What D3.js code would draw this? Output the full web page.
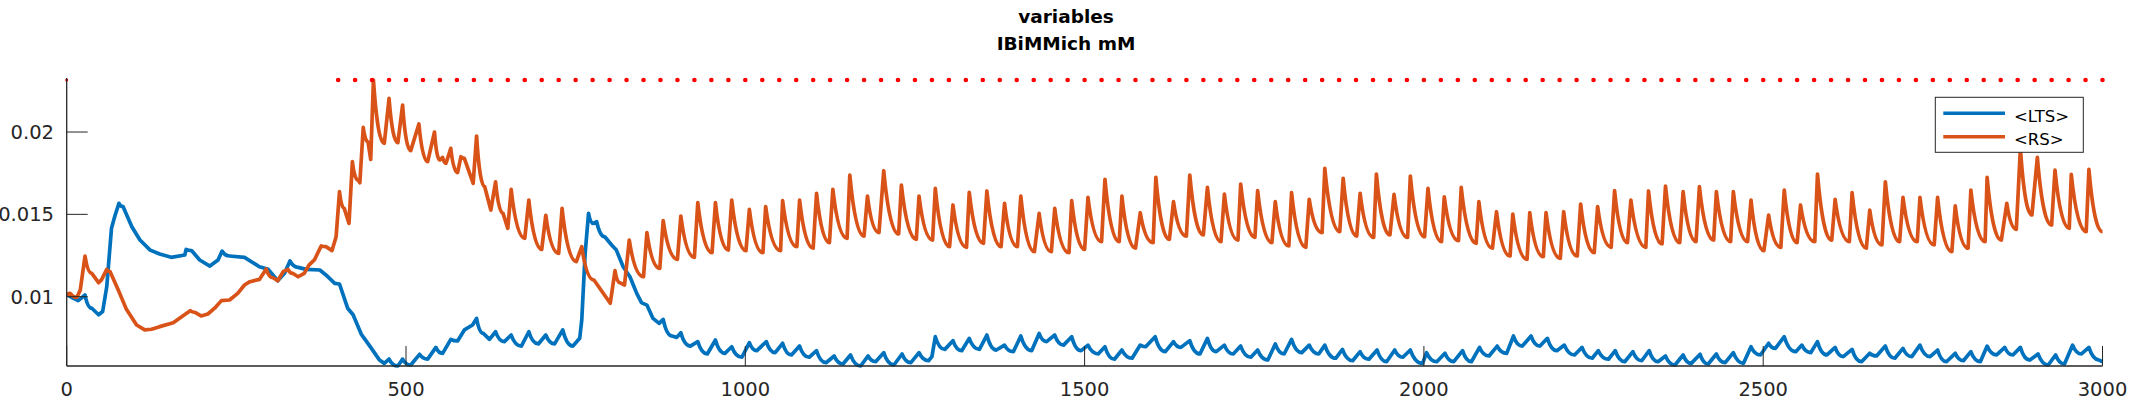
<!DOCTYPE html>
<html>
<head>
<meta charset="utf-8">
<script src="https://cdn.jsdelivr.net/npm/d3@7"></script>
<style>
  body { margin: 0; background: #fff; }
  svg { display: block; font-family: "DejaVu Sans", sans-serif; }
</style>
</head>
<body>
<svg id="chart" width="2133" height="400"></svg>
<script>
// time (ms) / concentration pairs
const ltsData = [
  [0,0.01014],[10,0.0099],[17,0.00976],[27,0.0101],[37,0.0093],[47,0.0089],[53,0.0091],[59,0.0106],
  [66,0.01415],[71,0.0149],[77,0.01567],[83,0.01547],[96,0.01425],[108,0.01344],[123,0.01283],[137,0.01259],
  [154,0.01239],[174,0.01253],[176,0.01287],[184,0.0128],[196,0.01223],[211,0.01186],[223,0.01223],[229,0.01277],
  [240,0.01247],[262,0.01239],[284,0.01182],[297,0.01166],[311,0.01097],[321,0.01142],[329,0.01217],[341,0.01178],
  [353,0.01166],[373,0.01162],[382,0.01132],[395,0.01081],[402,0.01077],[414,0.0093],[422,0.0089],[434,0.00773],
  [448,0.00692],[461,0.00615],[468,0.00595],[475,0.00621],[488,0.00579],[495,0.00621],[507,0.00585],[520,0.0065],
  [532,0.00621],[544,0.00692],[554,0.00656],[566,0.00741],[576,0.00731],[586,0.00798],[598,0.00828],[604,0.00868],
  [614,0.00777],[623,0.00741],[632,0.00787],[645,0.00727],[655,0.00767],[670,0.007],[681,0.00787],[695,0.00713],
  [706,0.00767],[719,0.00713],[731,0.00798],[746,0.007],[756,0.00747],[759,0.00858],[764,0.01263],[769,0.01506],
  [776,0.01445],[781,0.01455],[793,0.01364],[803,0.01314],[810,0.01283],[820,0.01182],[830,0.01121],[840,0.0102],
  [847,0.00964],[855,0.00949],[864,0.00868],[873,0.00838],[879,0.00862],[892,0.00761],[899,0.00753],[905,0.00781],
  [919,0.007],[930,0.00727],[944,0.00652],[956,0.00737],[970,0.00656],[980,0.00696],[995,0.00632],[1006,0.00721],
  [1017,0.00672],[1031,0.00727],[1044,0.0066],[1055,0.00717],[1068,0.00646],[1080,0.007],[1094,0.00632],[1105,0.00672],
  [1119,0.00599],[1131,0.0064],[1144,0.00591],[1155,0.00646],[1170,0.00579],[1181,0.0064],[1192,0.00605],[1204,0.0066],
  [1219,0.00585],[1231,0.00652],[1244,0.00599],[1256,0.0066],[1270,0.00611],[1275,0.00636],[1280,0.00757],[1294,0.0068],
  [1306,0.00733],[1319,0.00672],[1330,0.00747],[1345,0.0068],[1356,0.00767],[1370,0.00676],[1382,0.00706],[1395,0.00666],
  [1406,0.00761],[1422,0.00672],[1433,0.00777],[1444,0.00727],[1456,0.00767],[1469,0.00706],[1481,0.00757],[1495,0.00672],
  [1505,0.00706],[1520,0.00652],[1530,0.00696],[1544,0.0062],[1555,0.00676],[1570,0.00626],[1582,0.00706],[1590,0.00696],
  [1604,0.00757],[1619,0.00666],[1631,0.00727],[1642,0.00692],[1655,0.00733],[1670,0.00652],[1681,0.00747],[1694,0.00666],
  [1706,0.00706],[1719,0.00652],[1730,0.007],[1745,0.00632],[1755,0.00676],[1770,0.00615],[1781,0.00713],[1794,0.00652],
  [1805,0.00741],[1820,0.0066],[1831,0.00706],[1845,0.00652],[1854,0.00706],[1870,0.00626],[1880,0.0068],[1895,0.00611],
  [1906,0.00666],[1919,0.0062],[1931,0.00676],[1945,0.00605],[1957,0.00676],[1969,0.00632],[1980,0.00676],[1998,0.00595],
  [2004,0.0066],[2019,0.00605],[2031,0.00656],[2044,0.00605],[2057,0.00672],[2070,0.00605],[2082,0.00692],[2096,0.0064],
  [2108,0.007],[2122,0.00656],[2132,0.00761],[2145,0.007],[2158,0.00761],[2171,0.007],[2182,0.00747],[2196,0.00672],
  [2207,0.00706],[2222,0.00646],[2233,0.00692],[2248,0.00626],[2257,0.00672],[2272,0.0062],[2282,0.00672],[2296,0.00605],
  [2308,0.00666],[2321,0.00611],[2332,0.00672],[2345,0.00605],[2356,0.0064],[2370,0.00585],[2382,0.00646],[2394,0.00595],
  [2407,0.0065],[2419,0.00591],[2431,0.00652],[2444,0.00599],[2456,0.0066],[2471,0.00595],[2482,0.00696],[2496,0.00646],
  [2508,0.00717],[2518,0.00686],[2531,0.00757],[2548,0.00666],[2557,0.00706],[2570,0.0066],[2580,0.00727],[2594,0.00646],
  [2606,0.00692],[2618,0.00636],[2631,0.0068],[2645,0.00605],[2657,0.00656],[2667,0.0064],[2680,0.007],[2694,0.00626],
  [2706,0.00686],[2719,0.00636],[2731,0.00706],[2746,0.00636],[2757,0.00676],[2770,0.00605],[2783,0.00656],[2795,0.00611],
  [2806,0.00666],[2820,0.00605],[2830,0.007],[2844,0.00646],[2856,0.00692],[2868,0.00646],[2879,0.00692],[2893,0.00615],
  [2905,0.00652],[2920,0.00585],[2931,0.00646],[2944,0.00591],[2956,0.00706],[2969,0.00652],[2980,0.00692],[2995,0.00615],
  [3000,0.00605]
];

const rsData = [
  [0,0.01014],[5,0.0102],[15,0.00996],[20,0.0104],[27,0.01247],[37,0.01142],[47,0.01085],[51,0.01101],
  [59,0.01166],[64,0.01152],[76,0.0104],[88,0.00923],[103,0.00828],[115,0.00798],[125,0.00802],[137,0.00818],
  [157,0.00842],[171,0.00883],[182,0.00915],[189,0.00905],[198,0.00883],[208,0.00895],[218,0.0093],[228,0.00976],
  [240,0.0098],[252,0.0102],[262,0.01071],[270,0.01091],[284,0.01105],[294,0.01168],[304,0.01115],[311,0.01097],
  [319,0.01152],[326,0.01166],[333,0.01142],[341,0.01121],[350,0.01142],[357,0.01192],[365,0.01223],[375,0.01308],
  [382,0.01304],[391,0.0128],[397,0.01364],[402,0.01638],[409,0.01536],[416,0.01445],[421,0.0182],[429,0.01709],
  [432,0.01692],[437,0.02028],[444,0.01941],[448,0.01834],[452,0.02316],[468,0.01931],[475,0.02204],[488,0.01935],
  [495,0.02164],[507,0.01887],[519,0.02049],[532,0.0182],[542,0.02],[550,0.0183],[554,0.01846],[559,0.0181],
  [566,0.01901],[576,0.01753],[581,0.0185],[586,0.0184],[599,0.01688],[604,0.01976],[616,0.01668],[625,0.01526],
  [632,0.01698],[643,0.01506],[650,0.01415],[655,0.01652],[675,0.01354],[681,0.01587],[700,0.01287],[706,0.01494],
  [725,0.01263],[730,0.01536],[751,0.01213],[759,0.01304],[777,0.01101],[801,0.0096],[808,0.01158],[815,0.01085],
  [822,0.01071],[829,0.01344],[850,0.01121],[855,0.01389],[874,0.01172],[879,0.01462],[900,0.01227],[905,0.0149],
  [925,0.01239],[930,0.01571],[951,0.01267],[956,0.01571],[975,0.01283],[980,0.01587],[1001,0.01279],[1006,0.0153],
  [1026,0.01267],[1030,0.01547],[1052,0.01279],[1055,0.01583],[1076,0.01304],[1080,0.01587],[1100,0.01294],[1105,0.01628],
  [1124,0.01328],[1129,0.01652],[1150,0.01354],[1154,0.01739],[1175,0.01368],[1180,0.01611],[1197,0.01389],[1204,0.01765],
  [1226,0.01381],[1230,0.01678],[1252,0.01348],[1256,0.01611],[1276,0.01344],[1280,0.01658],[1301,0.01304],[1306,0.01557],
  [1326,0.013],[1330,0.01634],[1351,0.01324],[1356,0.01642],[1377,0.01304],[1382,0.01567],[1401,0.01304],[1406,0.01611],
  [1426,0.01273],[1433,0.01506],[1451,0.01273],[1456,0.01536],[1477,0.01267],[1481,0.01583],[1500,0.01287],[1505,0.01603],
  [1525,0.01334],[1530,0.01713],[1551,0.01334],[1555,0.01611],[1575,0.01294],[1582,0.0151],[1601,0.01328],[1605,0.01725],
  [1625,0.01348],[1631,0.01577],[1650,0.01368],[1655,0.01739],[1675,0.01375],[1681,0.01664],[1701,0.01334],[1706,0.01623],
  [1726,0.01344],[1730,0.01684],[1751,0.0136],[1755,0.01644],[1776,0.01328],[1781,0.01577],[1801,0.01308],[1805,0.01632],
  [1826,0.013],[1831,0.01591],[1850,0.01389],[1854,0.01779],[1876,0.01395],[1881,0.01719],[1901,0.01368],[1906,0.01628],
  [1926,0.0136],[1930,0.01745],[1950,0.01375],[1956,0.01621],[1976,0.0136],[1980,0.01733],[2001,0.01364],[2006,0.01658],
  [2026,0.01334],[2030,0.01607],[2051,0.0134],[2055,0.01664],[2077,0.01324],[2081,0.01577],[2101,0.01294],[2107,0.01516],
  [2127,0.01247],[2131,0.01502],[2152,0.01227],[2156,0.0151],[2176,0.01243],[2180,0.0151],[2201,0.01233],[2206,0.01516],
  [2226,0.01247],[2231,0.01563],[2251,0.01267],[2256,0.01547],[2276,0.013],[2281,0.01644],[2300,0.01328],[2305,0.01587],
  [2327,0.013],[2331,0.01642],[2351,0.0132],[2356,0.01672],[2377,0.01328],[2382,0.01638],[2401,0.01334],[2406,0.01668],
  [2427,0.01344],[2431,0.01638],[2452,0.01334],[2456,0.01638],[2477,0.01334],[2482,0.01587],[2501,0.01279],[2508,0.01496],
  [2526,0.013],[2531,0.01648],[2550,0.01328],[2555,0.01557],[2576,0.01334],[2580,0.01745],[2601,0.01344],[2606,0.01591],
  [2627,0.01334],[2631,0.01632],[2652,0.01294],[2657,0.01526],[2675,0.01314],[2680,0.01698],[2701,0.01334],[2706,0.01603],
  [2727,0.01334],[2731,0.01603],[2752,0.01314],[2757,0.01603],[2778,0.01273],[2783,0.01551],[2802,0.01294],[2806,0.01648],
  [2827,0.01334],[2830,0.01725],[2851,0.01344],[2859,0.01567],[2873,0.01409],[2879,0.019],[2896,0.01496],[2904,0.01846],
  [2925,0.01435],[2930,0.01769],[2951,0.01415],[2954,0.01743],[2976,0.01395],[2980,0.01773],[3000,0.01395]
];

// stimulus times shown as red dots along the top
const stimTimes = [0,
  400,425,450,475,500,525,550,575,600,625,650,675,700,725,750,775,800,825,850,875,900,925,950,975,
  1000,1025,1050,1075,1100,1125,1150,1175,1200,1225,1250,1275,1300,1325,1350,1375,1400,1425,1450,1475,
  1500,1525,1550,1575,1600,1625,1650,1675,1700,1725,1750,1775,1800,1825,1850,1875,1900,1925,1950,1975,
  2000,2025,2050,2075,2100,2125,2150,2175,2200,2225,2250,2275,2300,2325,2350,2375,2400,2425,2450,2475,
  2500,2525,2550,2575,2600,2625,2650,2675,2700,2725,2750,2775,2800,2825,2850,2875,2900,2925,2950,2975,3000];

const xTicks = [0, 500, 1000, 1500, 2000, 2500, 3000];
const yTicks = [0.01, 0.015, 0.02];
const titleLines = ["variables", "IBiMMich mM"];
const seriesNames = ["<LTS>", "<RS>"];
const seriesColors = ["#0072BD", "#D95319"];

const svg = d3.select("#chart");
const axisColor = "#262626";

const allValues = ltsData.concat(rsData).map(d => d[1]);
const x = d3.scaleLinear().domain([0, 3000]).range([66.7, 2102.5]);
const y = d3.scaleLinear().domain(d3.extent(allValues)).range([366, 80]);

// line curve: a fall that starts right after a rise bends like a decay
// (fast then slow); everything else is drawn straight
function decayCurve(context) {
    let px, py, rising, started;
    return {
        areaStart() {}, areaEnd() {},
        lineStart() { started = false; rising = false; },
        lineEnd() {},
        point(x, y) {
            if (!started) { context.moveTo(x, y); started = true; }
            else if (y > py && rising) context.quadraticCurveTo(px + 0.4 * (x - px), y, x, y);
            else context.lineTo(x, y);
            if (started && px !== undefined) rising = y < py;
            px = x; py = y;
        }
    };
}

// title, centred on the figure
svg.append("g").selectAll("text")
    .data(titleLines)
    .join("text")
    .attr("x", 1066)
    .attr("y", (d, i) => 23 + i * 27)
    .attr("text-anchor", "middle")
    .attr("font-weight", "bold")
    .attr("font-size", "18.5px")
    .attr("fill", "#000")
    .text(d => d);

// series
const line = d3.line().x(d => x(d[0])).y(d => y(d[1])).curve(decayCurve);
svg.append("g").selectAll("path")
    .data([ltsData, rsData])
    .join("path")
    .attr("d", line)
    .attr("fill", "none")
    .attr("stroke", (d, i) => seriesColors[i])
    .attr("stroke-width", 3.7)
    .attr("stroke-linejoin", "round");

// stimulus markers at the top of the axes
svg.append("g").selectAll("circle")
    .data(stimTimes)
    .join("circle")
    .attr("cx", d => x(d))
    .attr("cy", y.range()[1])
    .attr("r", d => d === 0 ? 1.5 : 2.3)
    .attr("fill", "#FF0000");

// axes: only left and bottom, ticks point inward
const axes = svg.append("g").attr("stroke", axisColor).attr("fill", "none");
axes.append("line")
    .attr("x1", x(0)).attr("x2", x(0))
    .attr("y1", y.range()[1] - 2).attr("y2", y.range()[0])
    .attr("stroke-width", 1.3);
axes.append("line")
    .attr("x1", x(0)).attr("x2", x(3000))
    .attr("y1", y.range()[0]).attr("y2", y.range()[0])
    .attr("stroke-width", 1.3);
axes.selectAll(".xt").data(xTicks).join("line")
    .attr("class", "xt")
    .attr("x1", d => x(d)).attr("x2", d => x(d))
    .attr("y1", y.range()[0]).attr("y2", y.range()[0] - 20)
    .attr("stroke-width", 1);
axes.selectAll(".yt").data(yTicks).join("line")
    .attr("class", "yt")
    .attr("x1", x(0)).attr("x2", x(0) + 21)
    .attr("y1", d => y(d)).attr("y2", d => y(d))
    .attr("stroke-width", 1);

svg.append("g").selectAll("text")
    .data(xTicks)
    .join("text")
    .attr("x", d => x(d))
    .attr("y", 396)
    .attr("text-anchor", "middle")
    .attr("font-size", "19.5px")
    .attr("fill", axisColor)
    .text(d => d);

svg.append("g").selectAll("text")
    .data(yTicks)
    .join("text")
    .attr("x", 54)
    .attr("y", d => y(d))
    .attr("dy", "0.36em")
    .attr("text-anchor", "end")
    .attr("font-size", "19.5px")
    .attr("fill", axisColor)
    .text(d => d);

// legend box, top right
const legend = svg.append("g");
legend.append("rect")
    .attr("x", 1935.3).attr("y", 97.3)
    .attr("width", 148).attr("height", 55)
    .attr("fill", "#fff")
    .attr("stroke", axisColor)
    .attr("stroke-width", 1);
const items = legend.selectAll("g")
    .data(seriesNames)
    .join("g")
    .attr("transform", (d, i) => `translate(0,${113.3 + i * 23.4})`);
items.append("line")
    .attr("x1", 1943.3).attr("x2", 2005)
    .attr("stroke", (d, i) => seriesColors[i])
    .attr("stroke-width", 3.4);
items.append("text")
    .attr("x", 2014)
    .attr("y", 8.3)
    .attr("font-size", "16.5px")
    .attr("fill", "#000")
    .text(d => d);
</script>
</body>
</html>
